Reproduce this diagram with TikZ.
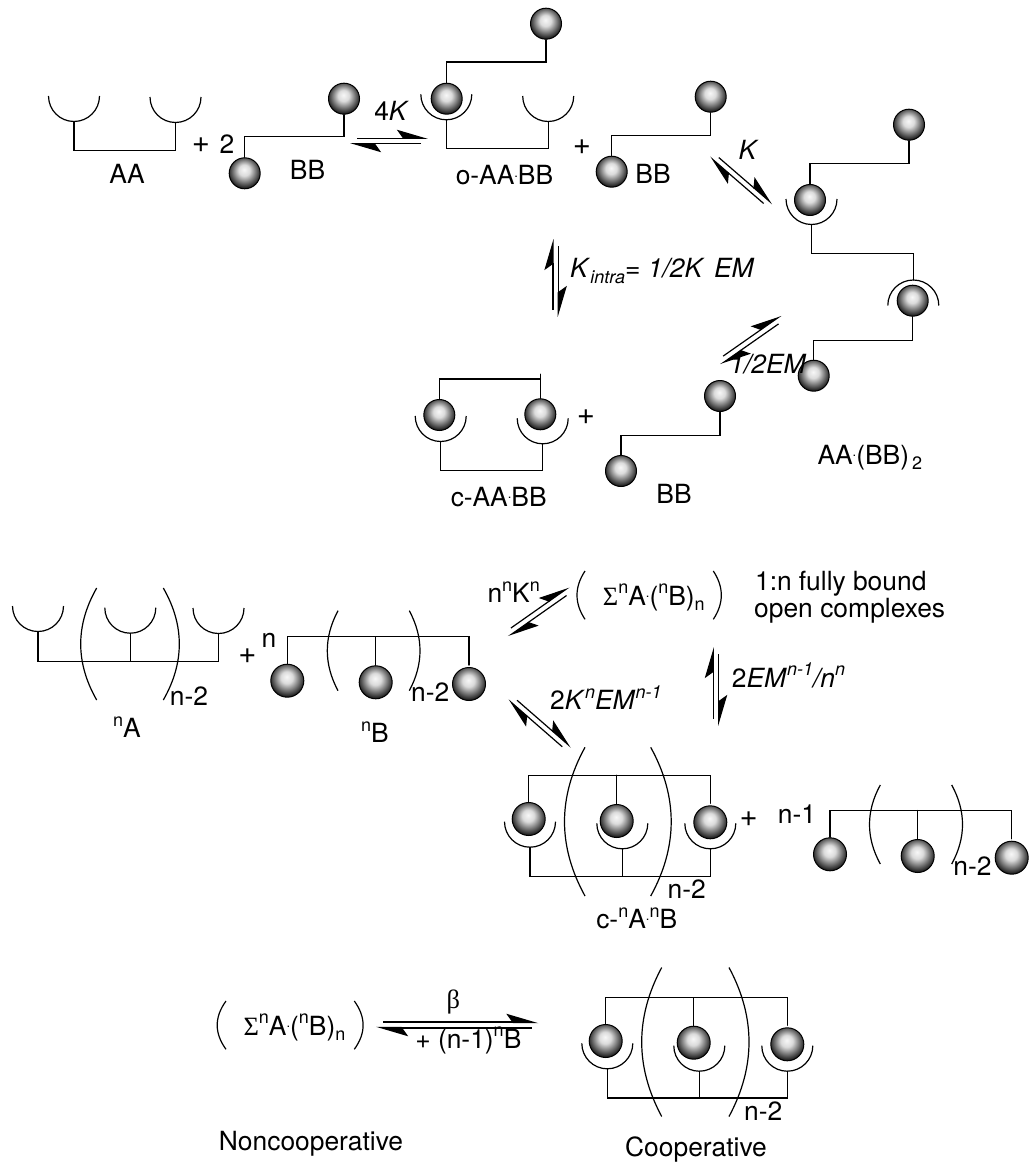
\documentclass[tikz,border=0pt]{standalone}
\usepackage{fontspec}
\usepackage{tikz}
\usetikzlibrary{arrows.meta,calc}
\setmainfont{TeX Gyre Heros}
\newfontfamily\greekfont{Liberation Serif}
\pgfdeclareradialshading{bead}{\pgfpoint{-1bp}{6bp}}{
  color(0bp)=(black!3); color(9bp)=(black!14); color(17bp)=(black!48);
  color(24bp)=(black!78); color(29bp)=(black); color(50bp)=(black)}
\newcommand{\sptxt}[1]{\raisebox{0.42em}{\fontsize{18}{18}\selectfont #1}}
\newcommand{\sbtxt}[1]{\raisebox{-0.22em}{\fontsize{18}{18}\selectfont #1}}
\newcommand{\smalldot}{\raisebox{0.3em}{\fontsize{13}{13}\selectfont .}}
\newcommand{\brackets}[5]{
  \draw[arcline] (#1,#3) .. controls ({#1-#5*4/3},{#3+(#4-#3)/3}) and ({#1-#5*4/3},{#3+2*(#4-#3)/3}) .. (#1,#4);
  \draw[arcline] (#2,#3) .. controls ({#2+#5*4/3},{#3+(#4-#3)/3}) and ({#2+#5*4/3},{#3+2*(#4-#3)/3}) .. (#2,#4);
}
\newcommand{\equil}[3][halfhead]{
  \draw[#1] ($(#2)!2.7pt!-90:(#3)$) -- ($(#3)!2.7pt!90:(#2)$);
  \draw[#1] ($(#3)!2.7pt!-90:(#2)$) -- ($(#2)!2.7pt!90:(#3)$);
}
\tikzset{
  bond/.style={line width=1.4pt, line cap=round, line join=miter},
  arcline/.style={line width=1.2pt},
  bead/.style={circle, draw=black, line width=1pt, inner sep=0pt, minimum size=31pt, shade, shading=bead},
  bigbead/.style={bead, minimum size=33pt},
  txt/.style={inner sep=0pt, anchor=base, font=\fontsize{26.4}{30}\selectfont},
  txtw/.style={txt, anchor=base west},
  plustxt/.style={txt, font=\fontsize{31}{30}\selectfont},
  halfhead/.style={line width=1.2pt, shorten <=7pt, -{Stealth[harpoon,length=29pt,width=17pt,inset=6pt]}},
  thickhead/.style={halfhead, line width=1.8pt},
  cup/.pic={
    \draw[arcline] (-25.5,0) arc[start angle=180, end angle=360, radius=25.5];
    \coordinate (-base) at (0,-25.5);
  }
}

\begin{document}
\begin{tikzpicture}[x=1pt,y=1pt,yscale=-1]
  \useasboundingbox (0,0) rectangle (1030,1169);

  % AA + 2 BB
  \pic (aal) at (74,96) {cup};
  \pic (aar) at (175.5,97) {cup};
  \draw[bond] (aal-base) -- ++(0,29) -| (aar-base);
  \node[txt] (aalabel) at (127,183.3) {AA};
  \node[plustxt] (plusa) at (201,153) {+};
  \node[txt] (twoa) at (227,153.3) {2};
  \node[bead] (bba) at (244.7,173.3) {};
  \node[bead] (bbb) at (344,98.7) {};
  \draw[bond] (bba.north) -- ++(0,-20.5) -| (bbb.south);
  \node[txt] (bblabela) at (307.5,180) {BB};

  % first binding
  \coordinate (eqas) at (350,141);
  \coordinate (eqat) at (428,141);
  \equil{eqas}{eqat}
  \node[txt] (labfourk) at (391.7,120.7) {4\textit{K}};

  % o-AA.BB
  \pic (oal) at (446.3,94.3) {cup};
  \pic (oar) at (548.2,96) {cup};
  \node[bead] (oba) at (446.7,98.7) {};
  \node[bead] (obb) at (546,23.7) {};
  \draw[bond] (oba.north) -- ++(0,-20.7) -| (obb.south);
  \draw[bond] (oal-base) -- ++(0,29) -| (oar-base);
  \node[txt] (oalabel) at (504.5,185) {o-AA\smalldot BB};
  \node[plustxt] (plusb) at (582,154.6) {+};
  \node[bead] (bbc) at (611.7,171.7) {};
  \node[bead] (bbd) at (710.7,96.7) {};
  \draw[bond] (bbc.north) -- ++(0,-20) -| (bbd.south);
  \node[txt] (bblabelb) at (653,183.3) {BB};

  % second binding
  \coordinate (eqbs) at (711.7,155);
  \coordinate (eqbt) at (770.7,206);
  \equil{eqbs}{eqbt}
  \node[txt] (labk) at (748.7,159.3) {\textit{K}};

  % AA.(BB)2
  \node[bead] (taa) at (909,124.7) {};
  \node[bead] (tab) at (810,200) {};
  \pic (tcl) at (811.5,199) {cup};
  \draw[bond] (tab.north) -- ++(0,-20.5) -| (taa.south);
  \pic[rotate=180] (tcr) at (913.3,305.5) {cup};
  \node[bead] (tac) at (912.7,300.7) {};
  \node[bead] (tad) at (813.7,375.7) {};
  \draw[bond] (tcl-base) -- ++(0,29) -| (tcr-base);
  \draw[bond] (tac.south) -- ++(0,24) -| (tad.north);
  \node[txtw] (talabel) at (817.3,464) {AA\smalldot(BB)\sbtxt{\,2}};

  % closing ring
  \coordinate (eqcs) at (555.6,317);
  \coordinate (eqct) at (555.6,239);
  \equil{eqcs}{eqct}
  \node[txtw] (labintra) at (570,277.3) {\textit{K}\sbtxt{\textit{intra}}= \textit{1/2K\kern 12pt EM}};
  \coordinate (eqds) at (719,362.3);
  \coordinate (eqdt) at (782.7,317.7);
  \equil{eqds}{eqdt}
  \node[txt] (labhalf) at (768,373.3) {\textit{1/2EM}};

  % c-AA.BB + BB
  \pic (cal) at (440.7,416) {cup};
  \pic (car) at (542.7,418.3) {cup};
  \node[bead] (cba) at (439.3,415) {};
  \node[bead] (cbb) at (540.3,414.3) {};
  \draw[bond] (cba.north) -- ++(0,-20.2) -- ($(cba.north)+(101,-20.2)$);
  \draw[bond] (cbb.north) -- ++(0,-24);
  \draw[bond] (cal-base) -- ++(0,29) -| (car-base);
  \node[txt] (calabel) at (498.7,506.7) {c-AA\smalldot BB};
  \node[plustxt] (plusc) at (586,424.6) {+};
  \node[bead] (bbe) at (621,471) {};
  \node[bead] (bbf) at (720,396) {};
  \draw[bond] (bbe.north) -- ++(0,-19.7) -| (bbf.south);
  \node[txt] (bblabelc) at (674,503.3) {BB};

  % nA + n nB
  \pic (naa) at (38,606) {cup};
  \pic (nab) at (130.3,607.7) {cup};
  \pic (nac) at (218.5,608) {cup};
  \draw[bond] (naa-base) -- ++(0,29.7) -| (nac-base);
  \draw[bond] (nab-base) -- ++(0,28);
  \brackets{96.7}{163.3}{588}{700}{16}
  \node[txt] (nalabelb) at (189,705.7) {n-2};
  \node[txt] (nalabel) at (127,737.7) {\sptxt{n}A};
  \node[plustxt] (plusd) at (247.3,663) {+};
  \node[txt] (nn) at (269,647.7) {n};
  \node[bigbead] (nba) at (287.3,680.7) {};
  \node[bigbead] (nbb) at (375.7,682.3) {};
  \node[bigbead] (nbc) at (469,684) {};
  \draw[bond, shorten >=2pt] (nba.north) -- ++(0,-27) -| (nbc.north);
  \draw[bond] (nbb.north) -- ++(0,-28.5);
  \brackets{338}{409.3}{610.7}{690.7}{10.7}
  \node[txt] (nblabelb) at (430.3,701.7) {n-2};
  \node[txt] (nblabel) at (375,742.3) {\sptxt{n}B};

  % open complexes
  \coordinate (eqes) at (506.7,634.3);
  \coordinate (eqet) at (570.7,589.3);
  \equil{eqes}{eqet}
  \node[txtw] (labnk) at (487.3,602.7) {n\sptxt{n}K\sptxt{n}};
  \brackets{585}{713.3}{571}{619.3}{8}
  \node[txt] (sumlabel) at (653.8,605) {{\greekfont Σ}\sptxt{n}A\smalldot(\sptxt{n}B)\sbtxt{n}};
  \node[txtw] (openla) at (755,590) {1:n\kern 7pt fully bound};
  \node[txtw] (openlb) at (754,617.7) {open complexes};
  \coordinate (eqfs) at (716,726);
  \coordinate (eqft) at (716,647);
  \equil{eqfs}{eqft}
  \node[txtw] (labem) at (731.7,687) {2\textit{EM}\sptxt{\textit{n-1}}\textit{/n}\sptxt{\textit{n}}};
  \coordinate (eqgs) at (510,697.7);
  \coordinate (eqgt) at (569.3,749.3);
  \equil{eqgs}{eqgt}
  \node[txtw] (labkem) at (550,709.3) {2\textit{K}\sptxt{\textit{n}}\textit{EM}\sptxt{\textit{n-1}}};

  % c-nA.nB + (n-1) nB
  \pic (ria) at (530,821.7) {cup};
  \pic (rib) at (622.3,823.3) {cup};
  \pic (ric) at (710.3,823.3) {cup};
  \node[bigbead] (rba) at (528.7,819) {};
  \node[bigbead] (rbb) at (616.7,821) {};
  \node[bigbead] (rbc) at (710.3,822.3) {};
  \draw[bond, shorten >=2pt] (rba.north) -- ++(0,-26.7) -| (rbc.north);
  \draw[bond] (rbb.north) -- ++(0,-28.7);
  \draw[bond] (ria-base) -- ++(0,29) -| (ric-base);
  \draw[bond] (rib-base) -- ++(0,27.2);
  \brackets{585}{650.7}{747.3}{896}{20.5}
  \node[txt] (rilabelb) at (686.7,898.3) {n-2};
  \node[txt] (rilabel) at (636.7,928.3) {c-\sptxt{n}A\smalldot\sptxt{n}B};
  \node[plustxt] (pluse) at (748.7,826) {+};
  \node[txt] (nminus) at (797,823.3) {n-1};
  \node[bigbead] (mba) at (830,854.3) {};
  \node[bigbead] (mbb) at (917.7,856) {};
  \node[bigbead] (mbc) at (1011.7,857.7) {};
  \draw[bond, shorten >=2pt] (mba.north) -- ++(0,-26.6) -| (mbc.north);
  \draw[bond] (mbb.north) -- ++(0,-28.5);
  \brackets{880.3}{951.7}{785}{864}{10.8}
  \node[txt] (mlabel) at (972.5,875) {n-2};

  % Noncooperative / Cooperative
  \brackets{226}{354.3}{1001}{1049.3}{8.8}
  \node[txt] (sumlabelb) at (294.5,1035) {{\greekfont Σ}\sptxt{n}A\smalldot(\sptxt{n}B)\sbtxt{n}};
  \coordinate (eqhs) at (376,1025);
  \coordinate (eqht) at (538.5,1025);
  \equil[thickhead]{eqhs}{eqht}
  \node[txt] (labbeta) at (453.3,1008) {\greekfont β};
  \node[txt] (labminus) at (468.3,1048) {+ (n-1)\sptxt{n}B};
  \node[txt] (labnon) at (311,1150) {Noncooperative};
  \pic (fia) at (607.3,1043.3) {cup};
  \pic (fib) at (699.3,1045.7) {cup};
  \pic (fic) at (787.3,1045.7) {cup};
  \node[bigbead] (fba) at (605.7,1041) {};
  \node[bigbead] (fbb) at (693.7,1042.7) {};
  \node[bigbead] (fbc) at (787.3,1044.3) {};
  \draw[bond, shorten >=2pt] (fba.north) -- ++(0,-26.5) -| (fbc.north);
  \draw[bond] (fbb.north) -- ++(0,-28);
  \draw[bond] (fia-base) -- ++(0,29) -| (fic-base);
  \draw[bond] (fib-base) -- ++(0,26.5);
  \brackets{661.7}{729}{967.5}{1116.5}{20}
  \node[txt] (filabelb) at (763.3,1120.7) {n-2};
  \node[txt] (filabel) at (696,1156.7) {Cooperative};
\end{tikzpicture}
\end{document}
